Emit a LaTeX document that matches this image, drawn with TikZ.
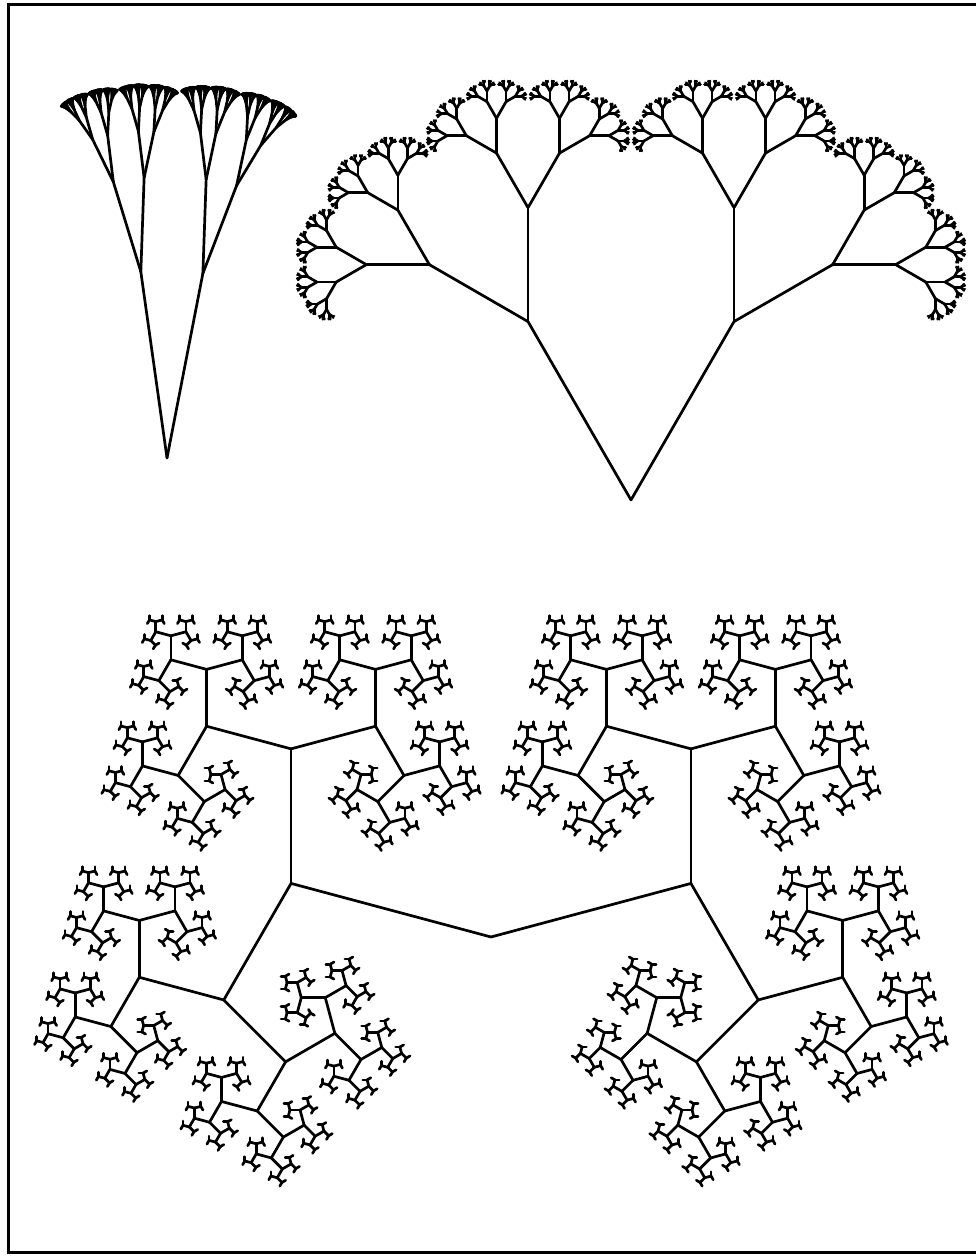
\documentclass[tikz,border=0pt]{standalone}
\usepackage{tikz}
\tikzset{
  framestyle/.style={line width=3pt, line cap=rect},
  limb/.style={line width=2.7pt, line cap=round, line join=round}
}
% recursive branch: x, y, angle, length, depth
\newcommand\fbranch[5]{%
  \ifnum#5>0
  \begingroup
    \pgfmathsetmacro\fx{#1+#4*cos(#3)}%
    \pgfmathsetmacro\fy{#2+#4*sin(#3)}%
    \draw[limb] (#1,#2) -- (\fx,\fy);
    \pgfmathsetmacro\fl{#4*\TR}%
    \pgfmathsetmacro\fal{#3+\TA}%
    \pgfmathsetmacro\far{#3-\TB}%
    \pgfmathtruncatemacro\fd{#5-1}%
    \edef\fnext{\noexpand\fbranch{\fx}{\fy}{\fal}{\fl}{\fd}\noexpand\fbranch{\fx}{\fy}{\far}{\fl}{\fd}}%
    \fnext
  \endgroup
  \fi}
\begin{document}
\begin{tikzpicture}[x=1pt,y=1pt]
\useasboundingbox (0,0) rectangle (975,1257);
\fill[white] (0,0) rectangle (975,1257);
% frame (open on the right, cut by the page edge)
\draw[framestyle] (975,1252) -- (8,1252) -- (8,4) -- (975,4);
% tree 1: narrow fan
\def\TA{9}\def\TB{10}\def\TR{0.5}
\fbranch{167}{799}{98}{188}{10}
\fbranch{167}{799}{79}{188}{10}
% tree 2: +-30 degrees
\def\TA{30}\def\TB{30}\def\TR{0.553}
\fbranch{631}{757}{120}{206}{9}
\fbranch{631}{757}{60}{206}{9}
% tree 3: +-75 degrees
\def\TA{75}\def\TB{75}\def\TR{0.65}
\fbranch{491}{320}{165}{207}{10}
\fbranch{491}{320}{15}{207}{10}
\end{tikzpicture}
\end{document}
